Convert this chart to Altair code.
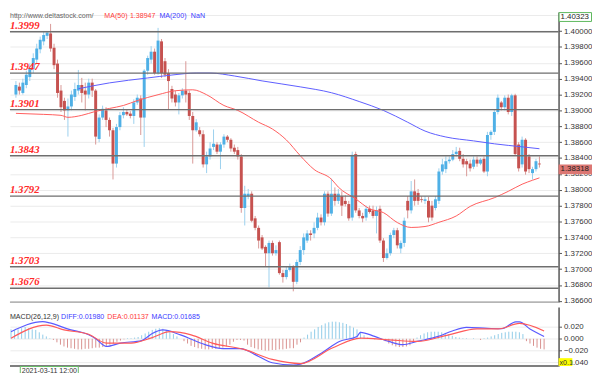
import altair as alt
import pandas as pd

# ---------------- data (prices in points of 0.0001) ----------------
opens = [13920, 13930, 13922, 13932, 13942, 13952, 13964, 13977, 13987, 13994,
         13997, 13979, 13959, 13925, 13912, 13900, 13905, 13917, 13925, 13932,
         13925, 13920, 13935, 13925, 13864, 13891, 13900, 13888, 13875, 13833,
         13879, 13894, 13898, 13896, 13893, 13910, 13915, 13891, 13950, 13964,
         13974, 13947, 13987, 13962, 13947, 13927, 13920, 13910, 13919, 13925,
         13922, 13893, 13875, 13875, 13870, 13832, 13842, 13854, 13857, 13848,
         13857, 13867, 13863, 13853, 13850, 13842, 13777, 13792, 13795, 13764,
         13752, 13740, 13728, 13720, 13733, 13720, 13734, 13695, 13690, 13699,
         13703, 13684, 13709, 13724, 13736, 13745, 13745, 13752, 13765, 13759,
         13795, 13770, 13795, 13786, 13792, 13786, 13782, 13765, 13845, 13774,
         13767, 13765, 13776, 13774, 13767, 13776, 13736, 13714, 13720, 13743,
         13749, 13726, 13733, 13786, 13774, 13798, 13796, 13788, 13786, 13786,
         13780, 13777, 13786, 13823, 13826, 13836, 13838, 13845, 13849, 13839,
         13836, 13833, 13829, 13838, 13833, 13839, 13823, 13869, 13873, 13898,
         13910, 13904, 13916, 13898, 13919, 13857, 13832, 13863, 13842, 13821,
         13826, 13833]
highs = [13937, 13935, 13940, 13950, 13959, 13972, 13984, 13993, 13999, 14000,
         14009, 13984, 13964, 13932, 13916, 13915, 13925, 13935, 13951, 13941,
         13935, 13940, 13940, 13927, 13895, 13906, 13904, 13891, 13878, 13883,
         13898, 13904, 13901, 13899, 13914, 13920, 13919, 13952, 13969, 13981,
         13978, 14004, 13990, 13966, 13952, 13931, 13925, 13922, 13928, 13962,
         13925, 13898, 13889, 13879, 13875, 13848, 13860, 13876, 13860, 13860,
         13870, 13869, 13865, 13857, 13854, 13845, 13805, 13801, 13798, 13767,
         13755, 13743, 13730, 13736, 13736, 13730, 13736, 13699, 13703, 13707,
         13705, 13712, 13729, 13745, 13749, 13749, 13759, 13771, 13769, 13798,
         13798, 13814, 13803, 13801, 13798, 13793, 13786, 13848, 13848, 13777,
         13771, 13780, 13780, 13780, 13779, 13780, 13739, 13726, 13746, 13752,
         13752, 13736, 13765, 13792, 13811, 13813, 13801, 13792, 13792, 13791,
         13786, 13792, 13827, 13839, 13842, 13842, 13850, 13854, 13853, 13845,
         13839, 13838, 13842, 13842, 13840, 13842, 13873, 13875, 13901, 13920,
         13912, 13919, 13920, 13921, 13921, 13860, 13867, 13865, 13845, 13829,
         13839, 13842]
lows = [13916, 13920, 13920, 13928, 13937, 13947, 13959, 13972, 13982, 13990,
        13974, 13952, 13916, 13898, 13888, 13867, 13900, 13912, 13920, 13910,
        13900, 13915, 13917, 13857, 13860, 13888, 13879, 13867, 13813, 13828,
        13875, 13890, 13893, 13890, 13883, 13907, 13869, 13854, 13945, 13959,
        13945, 13945, 13941, 13942, 13901, 13910, 13905, 13895, 13915, 13910,
        13888, 13833, 13873, 13867, 13828, 13821, 13838, 13850, 13845, 13826,
        13853, 13860, 13848, 13845, 13838, 13771, 13755, 13788, 13759, 13749,
        13726, 13724, 13703, 13677, 13717, 13717, 13693, 13683, 13687, 13697,
        13672, 13681, 13705, 13718, 13733, 13736, 13739, 13749, 13755, 13755,
        13766, 13767, 13780, 13782, 13767, 13779, 13761, 13761, 13771, 13764,
        13759, 13761, 13770, 13764, 13745, 13733, 13709, 13712, 13717, 13739,
        13726, 13720, 13728, 13764, 13770, 13780, 13781, 13784, 13782, 13759,
        13761, 13774, 13782, 13819, 13821, 13833, 13836, 13842, 13836, 13828,
        13817, 13823, 13826, 13829, 13831, 13821, 13817, 13863, 13869, 13895,
        13900, 13900, 13895, 13893, 13843, 13823, 13828, 13819, 13821, 13813,
        13823, 13828]
closes = [13932, 13925, 13935, 13945, 13953, 13966, 13978, 13989, 13995, 13998,
          13978, 13957, 13922, 13904, 13900, 13905, 13920, 13927, 13932, 13922,
          13920, 13935, 13925, 13867, 13891, 13902, 13888, 13875, 13833, 13879,
          13894, 13898, 13895, 13893, 13910, 13916, 13891, 13950, 13966, 13974,
          13947, 13988, 13947, 13945, 13937, 13915, 13910, 13919, 13925, 13920,
          13893, 13875, 13885, 13870, 13832, 13842, 13852, 13858, 13848, 13857,
          13867, 13863, 13852, 13848, 13842, 13777, 13795, 13795, 13761, 13752,
          13736, 13726, 13720, 13733, 13720, 13724, 13695, 13690, 13699, 13703,
          13684, 13709, 13724, 13740, 13745, 13743, 13752, 13765, 13759, 13795,
          13770, 13795, 13786, 13795, 13780, 13782, 13764, 13844, 13774, 13767,
          13764, 13776, 13772, 13767, 13774, 13736, 13714, 13720, 13743, 13749,
          13730, 13733, 13761, 13774, 13798, 13786, 13786, 13787, 13788, 13765,
          13765, 13788, 13823, 13832, 13836, 13838, 13845, 13848, 13839, 13832,
          13832, 13827, 13838, 13833, 13838, 13823, 13869, 13873, 13898, 13916,
          13904, 13916, 13898, 13919, 13845, 13827, 13863, 13823, 13826, 13826,
          13836, 13832]

ma50_idx = [0, 8, 13, 15, 19, 23, 27, 31, 35, 41, 46, 51, 55, 60, 64, 70, 74, 78, 82,
            86, 91, 93, 98, 102, 106, 110, 114, 118, 122, 127, 131, 138, 142, 146, 149, 151]
ma50_val = [1.38963, 1.38950, 1.38938, 1.38913, 1.38938, 1.38988, 1.39025, 1.39062,
            1.39124, 1.39198, 1.39248, 1.39260, 1.39198, 1.39062, 1.39000, 1.38851,
            1.38765, 1.38628, 1.38430, 1.38256, 1.38133, 1.38033, 1.37885, 1.37761,
            1.37712, 1.37587, 1.37525, 1.37537, 1.37590, 1.37670, 1.37790, 1.37900,
            1.37980, 1.38070, 1.38120, 1.38150]
ma200_idx = [18, 27, 38, 45, 52, 56, 63, 71, 82, 91, 99, 106, 113, 118, 124, 132, 138, 146, 151]
ma200_val = [1.39273, 1.39347, 1.39409, 1.39446, 1.39471, 1.39471, 1.39434, 1.39372,
             1.39297, 1.39223, 1.39112, 1.39000, 1.38851, 1.38740, 1.38665, 1.38616,
             1.38579, 1.38541, 1.38517]

levels = [1.3999, 1.3947, 1.3901, 1.3843, 1.3792, 1.3703, 1.3676]
price_ticks = [1.366, 1.368, 1.370, 1.372, 1.374, 1.376, 1.378, 1.380, 1.382, 1.384,
               1.386, 1.388, 1.390, 1.392, 1.394, 1.396, 1.398, 1.400, 1.402]
last_price = [1.38318]

macd_hist = [0.016, 0.015, 0.016, 0.018, 0.020, 0.018, 0.016, 0.015, 0.011, 0.007, 0.004,
             0.001, -0.002, -0.006,
             -0.010, -0.013, -0.015, -0.016, -0.017, -0.018, -0.018, -0.017, -0.017, -0.016,
             -0.015, -0.015, -0.014, -0.012, -0.010,
             -0.008, -0.005, -0.003, -0.001, 0.001, 0.001, 0.002, 0.003,
             0.006, 0.009, 0.012, 0.015, 0.017, 0.018, 0.017, 0.015, 0.012, 0.008,
             0.004, 0.000,
             -0.004, -0.008, -0.012, -0.014, -0.016, -0.017, -0.018, -0.018, -0.017, -0.017,
             -0.016, -0.015, -0.013, -0.010,
             -0.005, -0.002, -0.002, -0.003,
             -0.010, -0.014, -0.016, -0.018, -0.019, -0.020, -0.020, -0.019, -0.019, -0.018,
             -0.018, -0.017, -0.016, -0.016, -0.010, -0.006,
             0.002, 0.007, 0.012, 0.016, 0.020, 0.023, 0.026, 0.028, 0.029, 0.029, 0.028,
             0.027, 0.025, 0.022, 0.019, 0.016, 0.012,
             0.006, 0.002, 0.001, -0.001, 0.001, -0.002, -0.004,
             -0.008, -0.011, -0.013, -0.014, -0.014, -0.013, -0.011, -0.007,
             0.002, 0.006, 0.009, 0.011, 0.012, 0.012, 0.012, 0.011, 0.010, 0.008, 0.005,
             0.003, 0.002, 0.001, 0.001, 0.000, 0.001, 0.000, -0.002, 0.001, 0.002, 0.004, 0.006,
             0.008, 0.010, 0.011, 0.012, 0.012, 0.012, 0.011, 0.008,
             -0.004, -0.008, -0.012, -0.015, -0.017, -0.018]
diff_idx = [0, 9, 11, 16, 22, 24, 27, 31, 37, 40, 43, 48, 55, 60, 65, 70, 74, 80, 82, 88,
            93, 98, 99, 103, 107, 111, 115, 121, 125, 129, 135, 139, 143, 144, 147, 151]
diff_val = [0.012, 0.029, 0.027, 0.0167, 0.0067, 0.000, -0.013, -0.0073, -0.003, 0.009,
            0.015, 0.0067, -0.010, -0.0167, -0.0167, -0.0295, -0.0407, -0.0445, -0.043,
            -0.024, -0.0045, 0.004, 0.011, 0.004, -0.0045, -0.010, -0.0045, 0.004, 0.0133,
            0.0193, 0.0177, 0.017, 0.0288, 0.0288, 0.0167, 0.004]
dea_idx = [0, 10, 15, 22, 27, 34, 40, 45, 51, 57, 66, 74, 82, 91, 99, 107, 115, 124, 132,
           138, 144, 151]
dea_val = [0.001, 0.0233, 0.015, 0.0077, -0.0073, -0.0073, 0.002, 0.012, 0.0067, -0.0073,
           -0.018, -0.035, -0.042, -0.0157, 0.001, -0.0017, -0.0045, 0.0067, 0.0167, 0.0167,
           0.026, 0.0133]
macd_ticks = [0.02, 0.0, -0.02, -0.04]

# ---------------- frames ----------------
n = len(opens)
cdf = pd.DataFrame({
    "i": list(range(n)),
    "open": [v / 10000 for v in opens],
    "high": [v / 10000 for v in highs],
    "low": [v / 10000 for v in lows],
    "close": [v / 10000 for v in closes],
})
ma50 = pd.DataFrame({"i": ma50_idx, "v": ma50_val})
ma200 = pd.DataFrame({"i": ma200_idx, "v": ma200_val})
ldf = pd.DataFrame({"level": levels})
pdf = pd.DataFrame({"p": last_price})
hdf = pd.DataFrame({"i": list(range(len(macd_hist))), "h": macd_hist})
ddf = pd.DataFrame({"i": diff_idx, "v": diff_val})
edf = pd.DataFrame({"i": dea_idx, "v": dea_val})
dummy = pd.DataFrame({"k": [0]})

W, H1, H2 = 558, 295, 60
FONT = "Liberation Sans"

xscale = alt.Scale(domain=[-0.3, 155.1], nice=False, zero=False)
yscale = alt.Scale(domain=[1.36584, 1.40239], nice=False, zero=False)
mscale = alt.Scale(domain=[-0.0462, 0.0538], nice=False, zero=False)


def X():
    return alt.X("i:Q", scale=xscale, axis=None)


def axis(vals, fmt):
    return alt.Axis(orient="right", values=vals, format=fmt, title=None,
                    labelFont=FONT, labelFontSize=8, labelColor="#333", labelPadding=2,
                    tickSize=3, tickColor="#555", domainColor="#555", domainWidth=1.5,
                    grid=True, gridColor="#ebebeb", gridWidth=1,
                    labelOverlap=False, labelFlush=False)


yaxis = axis(price_ticks, ".5f")
maxis = axis(macd_ticks, ".3f")


def YP(field):
    return alt.Y(field, scale=yscale, axis=yaxis)


def YM(field):
    return alt.Y(field, scale=mscale, axis=maxis)


up = "datum.close >= datum.open"

wicks = alt.Chart(cdf).mark_rule(strokeWidth=1).encode(
    x=X(), y=YP("low:Q"), y2="high:Q",
    color=alt.condition(up, alt.value("#9bd0ee"), alt.value("#d89896")))
bodies = alt.Chart(cdf).mark_bar(width=3).encode(
    x=X(), y=YP("open:Q"), y2="close:Q",
    color=alt.condition(up, alt.value("#4fb0e6"), alt.value("#c65250")))
lvl_rules = alt.Chart(ldf).mark_rule(color="#6e6e6e", strokeWidth=1.5).encode(
    y=YP("level:Q"), x=alt.value(0), x2=alt.value(W))
lvl_text = alt.Chart(ldf).mark_text(
    align="left", baseline="alphabetic", dy=-3, font="Liberation Serif",
    fontStyle="italic", fontWeight="bold", fontSize=11, color="#ff2a2a").encode(
    y=YP("level:Q"), x=alt.value(0), text=alt.Text("level:Q", format=".4f"))
l50 = alt.Chart(ma50).mark_line(color="#ff5c5c", strokeWidth=1, interpolate="monotone").encode(
    x=X(), y=YP("v:Q"))
l200 = alt.Chart(ma200).mark_line(color="#5c5cff", strokeWidth=1, interpolate="monotone").encode(
    x=X(), y=YP("v:Q"))
bottom1 = alt.Chart(dummy).mark_rule(color="#8a8a8a", strokeWidth=1).encode(
    x=alt.value(0), x2=alt.value(W), y=alt.value(H1))

price_box = alt.Chart(pdf).mark_tick(orient="horizontal", thickness=10, size=34,
                                     color="#dc7773", opacity=1, yOffset=5).encode(
    y=YP("p:Q"), x=alt.value(575))
price_txt = alt.Chart(pdf).mark_text(align="left", baseline="middle", dy=5, dx=1,
                                     font=FONT, fontSize=8, color="#222").encode(
    y=YP("p:Q"), x=alt.value(559), text=alt.Text("p:Q", format=".5f"))
top_box = alt.Chart(dummy).mark_rect(fill="white", stroke="#5cb85c", strokeWidth=1).encode(
    x=alt.value(558.5), x2=alt.value(591.5), y=alt.value(0.5), y2=alt.value(9.5))
top_txt = alt.Chart(dummy).mark_text(align="left", baseline="middle", font=FONT,
                                     fontSize=8, color="#222").encode(
    x=alt.value(560), y=alt.value(5), text=alt.value("1.40323"))


def label(txt, x, y, color):
    return alt.Chart(dummy).mark_text(align="left", baseline="middle", font=FONT,
                                      fontSize=7.2, color=color).encode(
        x=alt.value(x), y=alt.value(y), text=alt.value(txt))


header = [label("http://www.deltastock.com/", 0, 4, "#666"),
          label("MA(50)", 96, 4, "#ff3b3b"),
          label("1.38947", 122, 4, "#ff3b3b"),
          label("MA(200)", 152, 4, "#3b3bff"),
          label("NaN", 184, 4, "#3b3bff")]

main = alt.layer(wicks, bodies, l50, l200, lvl_rules, lvl_text, bottom1,
                 price_box, price_txt, top_box, top_txt, *header).properties(
    width=W, height=H1)

hist = alt.Chart(hdf).mark_rule(strokeWidth=1).encode(
    x=X(), y=YM("h:Q"), y2=alt.Y2(datum=0),
    color=alt.condition("datum.h >= 0", alt.value("#8fcbe8"), alt.value("#d8908e")))
ldiff = alt.Chart(ddf).mark_line(color="#5a5aff", strokeWidth=1.2, interpolate="monotone").encode(
    x=X(), y=YM("v:Q"))
ldea = alt.Chart(edf).mark_line(color="#ff5a5a", strokeWidth=1.2, interpolate="monotone").encode(
    x=X(), y=YM("v:Q"))
bottom2 = alt.Chart(dummy).mark_rule(color="#555", strokeWidth=1.5).encode(
    x=alt.value(0), x2=alt.value(W), y=alt.value(H2))
date_box = alt.Chart(dummy).mark_rect(fill="white", stroke="#66bb66", strokeWidth=1).encode(
    x=alt.value(10.5), x2=alt.value(69.5), y=alt.value(H2 + 0.5), y2=alt.value(H2 + 8.5))
date_txt = alt.Chart(dummy).mark_text(align="left", baseline="middle", font=FONT,
                                      fontSize=7.2, color="#333").encode(
    x=alt.value(12), y=alt.value(H2 + 4.8), text=alt.value("2021-03-11 12:00"))
x_box = alt.Chart(dummy).mark_rect(fill="#ffff00").encode(
    x=alt.value(558), x2=alt.value(572), y=alt.value(52), y2=alt.value(60))
x_txt = alt.Chart(dummy).mark_text(align="left", baseline="middle", font=FONT,
                                   fontSize=7.2, color="#333").encode(
    x=alt.value(559), y=alt.value(56.5), text=alt.value("x0.1"))

mtitle = [label("MACD(26,12,9)", 0, 10, "#333"),
          label("DIFF:0.01980", 52, 10, "#3b3bff"),
          label("DEA:0.01137", 99, 10, "#ff3b3b"),
          label("MACD:0.01685", 144, 10, "#3b3bff")]

macd = alt.layer(hist, ldiff, ldea, bottom2, date_box, date_txt, x_box, x_txt,
                 *mtitle).properties(width=W, height=H2)

chart = alt.vconcat(main, macd, spacing=2).properties(padding=0).configure_view(stroke=None)

chart.save("out.html", embed_options={"renderer": "svg", "actions": False})
